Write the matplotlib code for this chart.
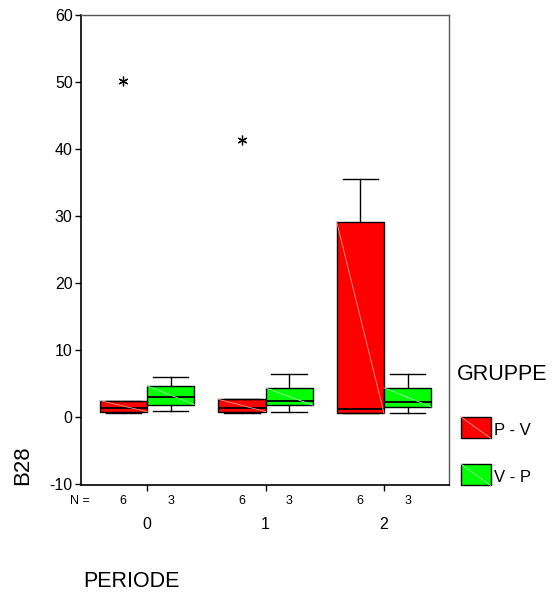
import matplotlib
matplotlib.use("Agg")
import matplotlib.pyplot as plt
from matplotlib.patches import Rectangle
from matplotlib.lines import Line2D

plt.rcParams['font.family'] = ['Liberation Sans', 'DejaVu Sans']
plt.rcParams['axes.unicode_minus'] = False

# ---- data ----
periods = ["0", "1", "2"]
groups = ["P - V", "V - P"]
n_counts = {"P - V": [6, 6, 6], "V - P": [3, 3, 3]}
# per group, per period
q1 = {"P - V": [0.85, 0.85, 0.6], "V - P": [1.9, 1.8, 1.55]}
med = {"P - V": [1.35, 1.35, 1.3], "V - P": [3.1, 2.5, 2.3]}
q3 = {"P - V": [2.5, 2.7, 29.2], "V - P": [4.7, 4.4, 4.4]}
whislo = {"P - V": [0.7, 0.6, 0.6], "V - P": [0.95, 0.75, 0.6]}
whishi = {"P - V": [2.5, 2.7, 35.5], "V - P": [6.05, 6.4, 6.4]}
outliers = {"P - V": [[50.2], [41.4], []], "V - P": [[], [], []]}

colors = {"P - V": "#ff0000", "V - P": "#00ff00"}
diag_colors = {"P - V": "#ff9a9a", "V - P": "#9affb0"}

fig = plt.figure(figsize=(5.56, 5.93), dpi=100)
ax = fig.add_axes([0.1457, 0.1821, 0.662, 0.7926])

width = 0.4
offsets = {"P - V": -0.2, "V - P": 0.2}

for g in groups:
    stats = []
    pos = []
    for i in range(len(periods)):
        stats.append(dict(q1=q1[g][i], med=med[g][i], q3=q3[g][i],
                          whislo=whislo[g][i], whishi=whishi[g][i],
                          fliers=outliers[g][i]))
        pos.append(i + offsets[g])
    ax.bxp(stats, positions=pos, widths=width, patch_artist=True,
           showfliers=True,
           boxprops=dict(facecolor=colors[g], edgecolor='black', linewidth=1.0),
           medianprops=dict(color='black', linewidth=1.3),
           whiskerprops=dict(color='black', linewidth=1.0),
           capprops=dict(color='black', linewidth=1.0),
           capwidths=0.3,
           flierprops=dict(marker=(6, 2, 0), markersize=7, markeredgecolor='black',
                           markeredgewidth=0.9, linestyle='none'))
    for i in range(len(periods)):
        x0 = i + offsets[g] - width / 2
        x1 = i + offsets[g] + width / 2
        ax.plot([x0, x1], [q3[g][i], q1[g][i]], color=diag_colors[g], lw=0.6, zorder=3)

ax.set_xlim(-0.557, 2.549)
ax.set_ylim(-10.1, 60)
ax.set_yticks([-10, 0, 10, 20, 30, 40, 50, 60])
ax.set_xticks([0, 1, 2])
ax.set_xticklabels([])
ax.tick_params(axis='y', direction='out', length=4, width=1, labelsize=11.5, pad=2)
ax.tick_params(axis='x', direction='out', length=4, width=1)
for s in ['left', 'bottom']:
    ax.spines[s].set_color('black')
    ax.spines[s].set_linewidth(1.2)
for s in ['top', 'right']:
    ax.spines[s].set_color('#555555')
    ax.spines[s].set_linewidth(1.0)

# N = row and category labels
xt = ax.get_xaxis_transform()
ax.text(-0.565, -0.034, "N =", transform=xt, ha='center', va='center', fontsize=9)
for g in groups:
    for i in range(len(periods)):
        ax.text(i + offsets[g], -0.034, str(n_counts[g][i]), transform=xt,
                ha='center', va='center', fontsize=9)
for i, p in enumerate(periods):
    ax.text(i, -0.085, p, transform=xt, ha='center', va='center', fontsize=11.5)

fig.text(0.2356, 0.0202, "PERIODE", ha='center', va='center', fontsize=15.5)
fig.text(0.0414, 0.216, "B28", rotation=90, ha='center', va='center', fontsize=16)

# legend
fig.text(0.821, 0.3693, "GRUPPE", ha='left', va='center', fontsize=15.5)
leg_y = [0.2791, 0.1995]
txt_y = [0.2732, 0.1956]
for g, yy, ty in zip(groups, leg_y, txt_y):
    x0, w, h = 0.8286, 0.054, 0.0364
    fig.patches.append(Rectangle((x0, yy - h / 2), w, h, transform=fig.transFigure,
                                 facecolor=colors[g], edgecolor='black', lw=1.0))
    fig.lines.append(Line2D([x0, x0 + w], [yy + h / 2, yy - h / 2], transform=fig.transFigure,
                            color=diag_colors[g], lw=0.6))
    fig.text(0.8885, ty, g, ha='left', va='center', fontsize=12)

fig.savefig("out.png", dpi=100)
